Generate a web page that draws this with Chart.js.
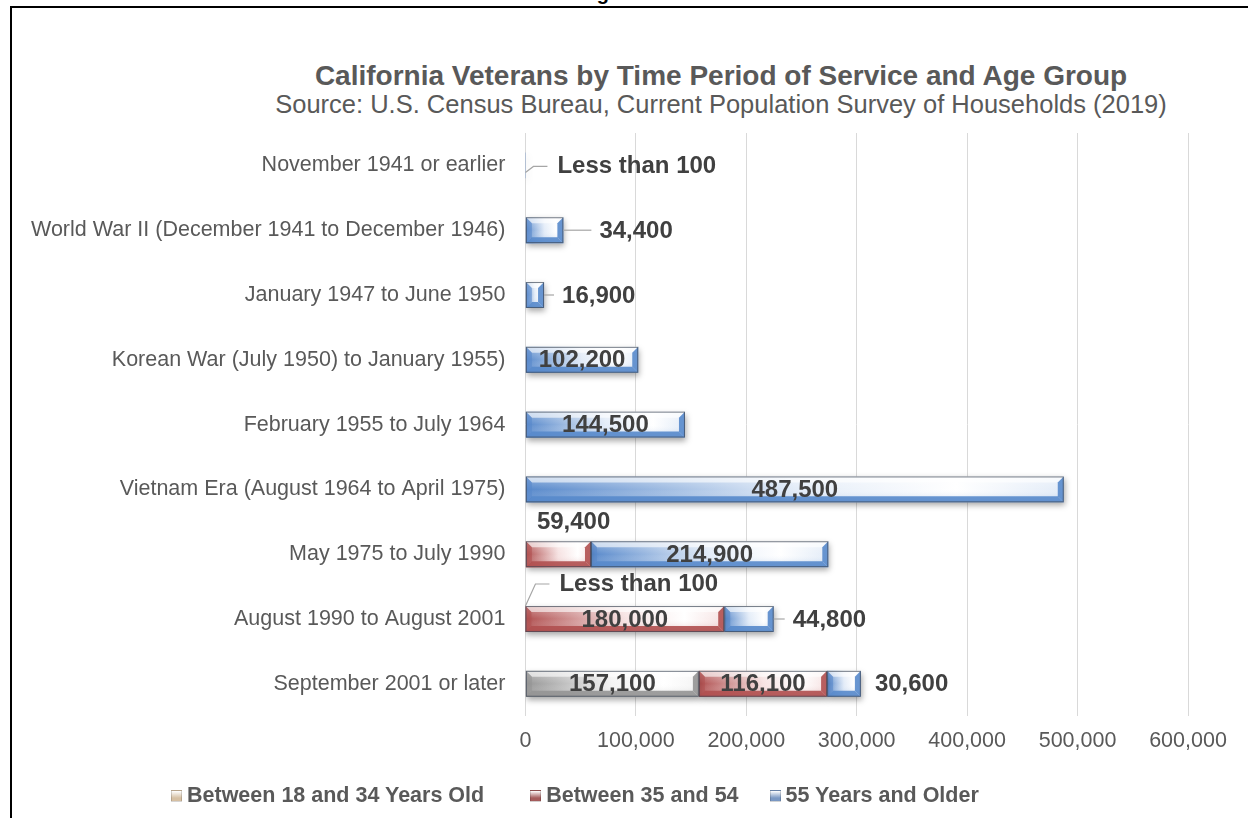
<!DOCTYPE html>
<html>
<head>
<meta charset="utf-8">
<script src="https://cdn.jsdelivr.net/npm/chart.js@4.4.1/dist/chart.umd.min.js"></script>
<style>
  body { margin: 0; background: #fff; width: 1248px; height: 818px; overflow: hidden; position: relative;
         font-family: "Liberation Sans", Arial, sans-serif; }
  #frame { position: absolute; left: 10px; top: 6px; width: 1240px; height: 820px;
           border-top: 2px solid #000; border-left: 2px solid #000; }
  #fig { position: absolute; left: 579px; top: -18px; font-size: 20px; font-weight: bold; color: #000; }
  .head { position: absolute; left: 721px; transform: translateX(-50%); white-space: nowrap; color: #595959; }
  #title { top: 60px; font-size: 28px; font-weight: bold; }
  #subtitle { top: 90px; font-size: 25.5px; }
  #chart-wrap { position: absolute; left: 0; top: 0; width: 1248px; height: 818px; }
  #legend { position: absolute; left: 171px; top: 783px; display: flex; white-space: nowrap; }
  .item { display: flex; align-items: center; font-size: 21.5px; font-weight: bold; color: #595959; }
  .box { width: 9px; height: 10px; margin-right: 5px; border: 1px solid rgba(0,0,0,0.15); }
</style>
</head>
<body>
<div id="fig">Figure</div>
<div id="frame"></div>
<div id="title" class="head">California Veterans by Time Period of Service and Age Group</div>
<div id="subtitle" class="head">Source: U.S. Census Bureau, Current Population Survey of Households (2019)</div>
<div id="chart-wrap"><canvas id="vetChart" width="1248" height="818"></canvas></div>
<div id="legend"></div>

<script>
// periods of service, top to bottom
const periods = [
  'November 1941 or earlier',
  'World War II (December 1941 to December 1946)',
  'January 1947 to June 1950',
  'Korean War (July 1950) to January 1955)',
  'February 1955 to July 1964',
  'Vietnam Era (August 1964 to April 1975)',
  'May 1975 to July 1990',
  'August 1990 to August 2001',
  'September 2001 or later'
];
const seriesNames = ['Between 18 and 34 Years Old', 'Between 35 and 54', '55 Years and Older'];

// veterans per age group (values under 100 are shown as "Less than 100")
const age18to34 = [0, 0, 0, 0, 0, 0, 0, 50, 157100];
const age35to54 = [0, 0, 0, 0, 0, 0, 59400, 180000, 116100];
const age55plus = [50, 34400, 16900, 102200, 144500, 487500, 214900, 44800, 30600];
const series = [age18to34, age35to54, age55plus];

const xTicks = [0, 100000, 200000, 300000, 400000, 500000, 600000];

// colours: bar base, bar highlight, legend swatch
const baseColors = ['#959595', '#b05050', '#5889cb'];
const lightColors = ['#f4f4f4', '#f6e2e2', '#e3ecf8'];
const swatchColors = ['#d6c0a3', '#a55c5c', '#7a98c3'];
const legendGaps = [46, 31];

// leader line lengths for labels that sit right of their bar
const leaderLen = { '2-1': 28, '2-2': 10, '2-7': 11, '2-8': 0 };
// "Less than 100" callouts: vertical offset of text and leader start
const notes = { '2-0': { dy: 1, startDy: 7, elbow: 8 }, '0-7': { dy: -35, startDy: -13, elbow: 10 } };

const fmt = v => v.toLocaleString('en-US');
const FONT = '"Liberation Sans", Arial, sans-serif';

// legend built from the series names
const legendEl = document.getElementById('legend');
seriesNames.forEach((name, i) => {
  const it = document.createElement('div');
  it.className = 'item';
  if (i < legendGaps.length) it.style.marginRight = legendGaps[i] + 'px';
  const b = document.createElement('span');
  b.className = 'box';
  b.style.background = 'linear-gradient(to bottom, #fff 0%, ' + swatchColors[i] + ' 70%)';
  it.appendChild(b);
  it.appendChild(document.createTextNode(name));
  legendEl.appendChild(it);
});

function segStart(si, idx) {
  let s = 0;
  for (let k = 0; k < si; k++) s += series[k][idx];
  return s;
}

function barFill(context) {
  const chart = context.chart;
  const xs = chart.scales.x;
  if (!xs || context.dataIndex === undefined) return baseColors[context.datasetIndex];
  const si = context.datasetIndex, idx = context.dataIndex;
  const start = segStart(si, idx);
  const x0 = xs.getPixelForValue(start);
  const x1 = xs.getPixelForValue(start + series[si][idx]);
  if (!isFinite(x0) || !isFinite(x1) || x1 - x0 < 1) return baseColors[si];
  const g = chart.ctx.createLinearGradient(x0, 0, x1, 0);
  g.addColorStop(0, baseColors[si]);
  g.addColorStop(0.5, lightColors[si]);
  g.addColorStop(0.8, '#ffffff');
  g.addColorStop(1, lightColors[si]);
  return g;
}

function hexA(hex, a) {
  const n = parseInt(hex.slice(1), 16);
  return 'rgba(' + (n >> 16) + ',' + ((n >> 8) & 255) + ',' + (n & 255) + ',' + a + ')';
}

// soft drop shadow + bevel edges + value labels
const barDecor = {
  id: 'barDecor',
  beforeDatasetsDraw(chart) {
    const c = chart.ctx;
    c.save();
    c.shadowColor = 'rgba(0,0,0,0.35)';
    c.shadowBlur = 6;
    c.shadowOffsetX = 1;
    c.shadowOffsetY = 3;
  },
  afterDatasetsDraw(chart) {
    const c = chart.ctx;
    c.restore();
    const bars = [];
    chart.data.datasets.forEach((ds, si) => {
      chart.getDatasetMeta(si).data.forEach((el, idx) => {
        const v = series[si][idx];
        if (!v) return;
        const p = el.getProps(['x', 'y', 'base', 'height'], true);
        const x0 = Math.min(p.x, p.base), x1 = Math.max(p.x, p.base);
        const y0 = p.y - p.height / 2, y1 = p.y + p.height / 2;
        bars.push({ si, idx, v, x0, x1, y0, y1, yc: p.y });
        const w = x1 - x0;
        if (w < 2) return;
        const b = Math.min(6, w / 2);
        const col = baseColors[si];
        const poly = (pts, fill) => {
          c.beginPath();
          c.moveTo(pts[0][0], pts[0][1]);
          for (let k = 1; k < pts.length; k++) c.lineTo(pts[k][0], pts[k][1]);
          c.closePath();
          c.fillStyle = fill;
          c.fill();
        };
        // upper half a touch lighter, lower half a touch darker
        const vg = c.createLinearGradient(0, y0, 0, y1);
        vg.addColorStop(0, 'rgba(255,255,255,0.35)');
        vg.addColorStop(0.5, 'rgba(255,255,255,0)');
        vg.addColorStop(1, hexA(col, 0.35));
        c.fillStyle = vg;
        c.fillRect(x0, y0, w, y1 - y0);
        poly([[x0, y0], [x1, y0], [x1 - b, y0 + b], [x0 + b, y0 + b]], 'rgba(255,255,255,0.6)');
        poly([[x0, y1], [x1, y1], [x1 - b, y1 - b], [x0 + b, y1 - b]], hexA(col, 0.9));
        poly([[x0, y0], [x0 + b, y0 + b], [x0 + b, y1 - b], [x0, y1]], hexA(col, 0.6));
        poly([[x1, y0], [x1 - b, y0 + b], [x1 - b, y1 - b], [x1, y1]], hexA(col, 0.9));
        c.strokeStyle = 'rgba(60,70,85,0.7)';
        c.lineWidth = 1;
        c.strokeRect(x0 + 0.5, y0 + 0.5, w - 1, p.height - 1);
      });
    });

    // value labels
    c.save();
    c.font = 'bold 24px ' + FONT;
    c.fillStyle = '#404040';
    c.textBaseline = 'middle';
    c.strokeStyle = '#a6a6a6';
    c.lineWidth = 1.2;
    bars.forEach(b => {
      const key = b.si + '-' + b.idx;
      const lastInStack = series.slice(b.si + 1).every(s => !s[b.idx]);
      if (b.v < 100) {
        const n = notes[key] || { dy: 0, startDy: 0, elbow: 8 };
        const ty = b.yc + n.dy;
        c.beginPath();
        c.moveTo(b.x0, b.yc + n.startDy);
        c.lineTo(b.x0 + n.elbow, ty);
        c.lineTo(b.x0 + n.elbow + 14, ty);
        c.stroke();
        c.textAlign = 'left';
        c.fillText('Less than 100', b.x0 + n.elbow + 24, ty);
        return;
      }
      const txt = fmt(b.v);
      const tw = c.measureText(txt).width;
      if (b.x1 - b.x0 >= tw + 6) {
        c.textAlign = 'center';
        c.fillText(txt, (b.x0 + b.x1) / 2, b.yc + 1);
      } else if (lastInStack) {
        const L = leaderLen[key] !== undefined ? leaderLen[key] : 0;
        if (L > 0) {
          c.beginPath();
          c.moveTo(b.x1, b.yc);
          c.lineTo(b.x1 + L, b.yc);
          c.stroke();
        }
        c.textAlign = 'left';
        c.fillText(txt, b.x1 + L + (L > 0 ? 8 : 14), b.yc + 1);
      } else {
        c.textAlign = 'left';
        c.fillText(txt, b.x0 + 11, b.yc - 32);
      }
    });
    c.restore();
  }
};

new Chart(document.getElementById('vetChart'), {
  type: 'bar',
  data: {
    labels: periods,
    datasets: seriesNames.map((name, i) => ({
      label: name,
      data: series[i],
      backgroundColor: barFill,
      borderWidth: 0,
      barPercentage: 0.4,
      categoryPercentage: 1
    }))
  },
  options: {
    indexAxis: 'y',
    responsive: false,
    animation: false,
    events: [],
    layout: { padding: { left: 19, right: 60, top: 133, bottom: 52 } },
    scales: {
      x: {
        stacked: true,
        min: 0,
        max: 600000,
        afterBuildTicks: axis => { axis.ticks = xTicks.map(v => ({ value: v })); },
        ticks: {
          callback: v => fmt(v),
          font: { family: FONT, size: 21.5 },
          color: '#595959',
          padding: 12,
          maxRotation: 0
        },
        grid: { color: '#d9d9d9', lineWidth: 1, drawTicks: false },
        border: { display: false }
      },
      y: {
        stacked: true,
        ticks: {
          font: { family: FONT, size: 21.5 },
          color: '#595959',
          padding: 12
        },
        grid: { display: false },
        border: { display: false }
      }
    },
    plugins: {
      legend: { display: false },
      title: { display: false },
      tooltip: { enabled: false }
    }
  },
  plugins: [barDecor]
});
</script>
</body>
</html>
